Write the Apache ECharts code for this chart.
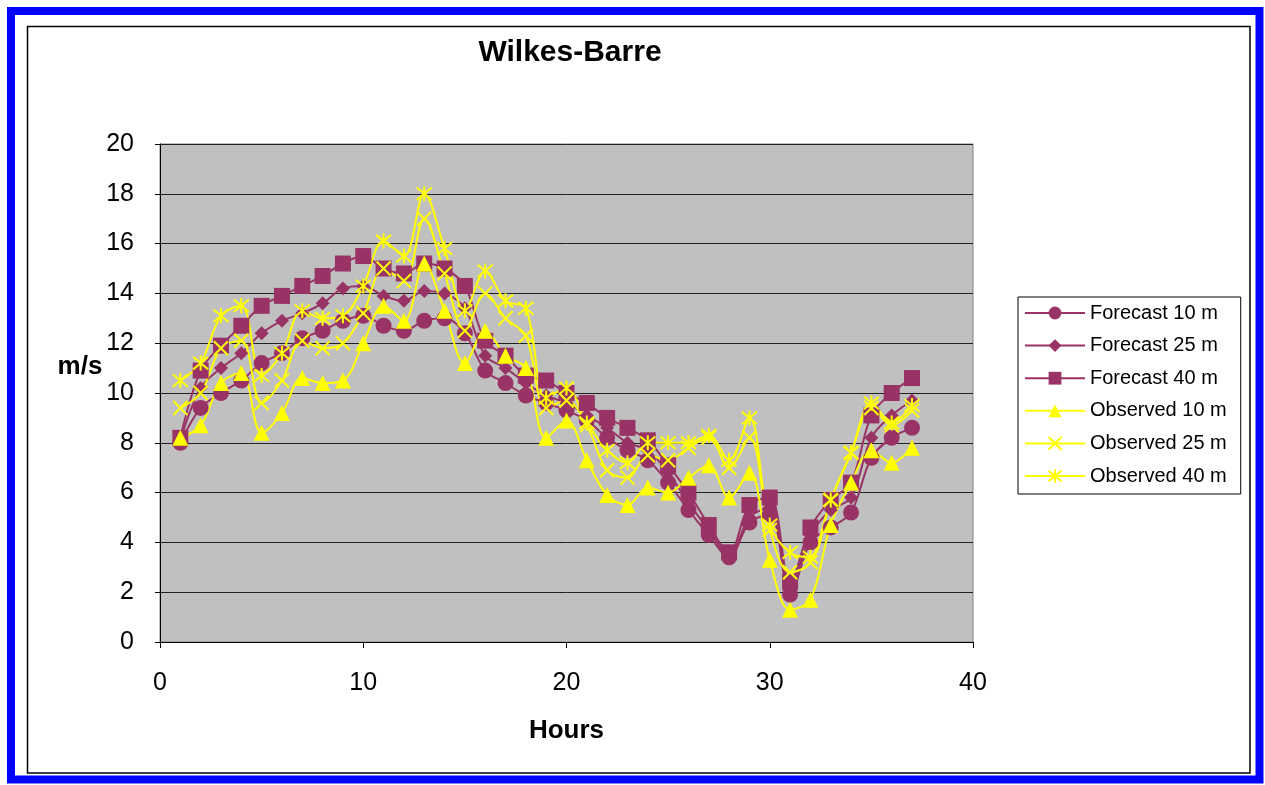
<!DOCTYPE html>
<html>
<head>
<meta charset="utf-8">
<script src="https://cdn.jsdelivr.net/npm/echarts@6/dist/echarts.min.js"></script>
<style>
html,body{margin:0;padding:0;background:#fff;}
#chart{width:1265px;height:785px;}
</style>
</head>
<body>
<div id="chart"></div>
<script>
var hours = [1,2,3,4,5,6,7,8,9,10,11,12,13,14,15,16,17,18,19,20,21,22,23,24,25,26,27,28,29,30,31,32,33,34,35,36,37];
var forecast10 = [8.0,9.4,10.0,10.5,11.2,11.6,12.2,12.5,12.9,13.1,12.7,12.5,12.9,13.0,12.4,10.9,10.4,9.9,9.6,9.3,8.9,8.2,7.7,7.3,6.4,5.3,4.3,3.4,4.8,5.1,1.9,4.0,4.6,5.2,7.4,8.2,8.6];
var forecast25 = [8.1,10.2,11.0,11.6,12.4,12.9,13.2,13.6,14.2,14.3,13.9,13.7,14.1,14.0,13.4,11.5,11.0,10.4,9.9,9.6,9.1,8.6,8.0,7.7,6.8,5.6,4.5,3.5,5.0,5.4,2.2,4.3,5.3,5.8,8.2,9.1,9.7];
var forecast40 = [8.2,10.9,11.9,12.7,13.5,13.9,14.3,14.7,15.2,15.5,15.0,14.8,15.2,15.0,14.3,12.1,11.5,10.7,10.5,10.0,9.6,9.0,8.6,8.1,7.1,6.0,4.7,3.6,5.5,5.8,2.4,4.6,5.7,6.4,9.1,10.0,10.6];
var observed10 = [8.2,8.7,10.4,10.8,8.4,9.2,10.6,10.4,10.5,12.0,13.5,12.9,15.2,13.3,11.2,12.5,11.5,11.0,8.2,8.9,7.3,5.9,5.5,6.2,6.0,6.6,7.1,5.8,6.8,3.3,1.3,1.7,4.7,6.4,7.7,7.2,7.8];
var observed25 = [9.4,10.0,11.8,12.1,9.6,10.5,12.1,11.8,12.0,13.2,15.0,14.5,17.0,14.8,12.5,14.0,13.0,12.3,9.4,9.7,8.7,6.9,6.6,7.5,7.3,7.8,8.2,7.0,8.2,4.5,2.8,3.2,5.7,7.6,9.4,8.7,9.3];
var observed40 = [10.5,11.2,13.1,13.5,10.7,11.6,13.3,13.0,13.1,14.3,16.1,15.5,18.0,15.8,13.3,14.9,13.7,13.4,9.8,10.2,8.8,7.7,7.2,8.0,8.0,8.0,8.3,7.3,9.0,4.7,3.6,3.4,5.7,7.6,9.6,8.8,9.5];
var seriesNames = ['Forecast 10 m','Forecast 25 m','Forecast 40 m','Observed 10 m','Observed 25 m','Observed 40 m'];

var FONT = 'Liberation Sans, Arial, sans-serif';
var PLUM = '#993366';
var YEL = '#FFFF00';

function pairs(vals){ return hours.map(function(h,i){ return [h, vals[i]]; }); }

function mk(name, vals, color, symbol, size, stroke){
  return {
    name: name, type: 'line', data: pairs(vals), smooth: 0.35,
    symbol: symbol, symbolSize: size,
    lineStyle: {color: color, width: 2},
    itemStyle: {color: color, borderColor: color, borderWidth: stroke ? 2 : 0},
    emphasis: {disabled: true},
    z: 3
  };
}

var chart = echarts.init(document.getElementById('chart'));
chart.setOption({
  animation: false,
  backgroundColor: '#ffffff',
  grid: {left: 160, top: 144, width: 813, height: 498, show: true, backgroundColor: '#C0C0C0', borderColor: '#808080', borderWidth: 1},
  xAxis: {
    type: 'value', min: 0, max: 40, interval: 10,
    name: 'Hours', nameLocation: 'middle', nameGap: 76,
    nameTextStyle: {fontFamily: FONT, fontSize: 26, fontWeight: 'bold', color: '#000'},
    axisLine: {show: true, lineStyle: {color: '#000', width: 1}},
    axisTick: {show: true, length: 6, lineStyle: {color: '#000'}},
    axisLabel: {fontFamily: FONT, fontSize: 25, color: '#000', margin: 29},
    splitLine: {show: false}
  },
  yAxis: {
    type: 'value', min: 0, max: 20, interval: 2,
    axisLine: {show: true, lineStyle: {color: '#000', width: 1}},
    axisTick: {show: true, length: 5, lineStyle: {color: '#000'}},
    axisLabel: {fontFamily: FONT, fontSize: 25, color: '#000', margin: 26},
    splitLine: {show: true, lineStyle: {color: '#222', width: 1}}
  },
  legend: {
    orient: 'vertical', left: 1018, top: 297,
    data: seriesNames,
    itemWidth: 60, itemHeight: 16, itemGap: 12.6,
    padding: [6, 14, 8, 6],
    borderColor: '#000', borderWidth: 1, backgroundColor: '#fff',
    selectedMode: false,
    textStyle: {fontFamily: FONT, fontSize: 20, color: '#000'}
  },
  graphic: [
    {type: 'rect', shape: {x: 11, y: 11, width: 1248.5, height: 768.5}, style: {fill: 'none', stroke: '#0000FF', lineWidth: 8}, silent: true},
    {type: 'rect', shape: {x: 27.5, y: 26.5, width: 1222.5, height: 746.5}, style: {fill: 'none', stroke: '#000', lineWidth: 1.5}, silent: true},
    {type: 'text', x: 570, y: 53, style: {text: 'Wilkes-Barre', fontFamily: FONT, fontSize: 30, fontWeight: 'bold', fill: '#000', align: 'center', verticalAlign: 'middle'}, silent: true},
    {type: 'text', x: 80, y: 367, style: {text: 'm/s', fontFamily: FONT, fontSize: 26, fontWeight: 'bold', fill: '#000', align: 'center', verticalAlign: 'middle'}, silent: true}
  ],
  series: [
    mk(seriesNames[0], forecast10, PLUM, 'circle', 16, false),
    mk(seriesNames[1], forecast25, PLUM, 'diamond', 14, false),
    mk(seriesNames[2], forecast40, PLUM, 'rect', 16, false),
    mk(seriesNames[3], observed10, YEL, 'triangle', 16, false),
    mk(seriesNames[4], observed25, YEL, 'path://M0,0L10,10M10,0L0,10', 14, true),
    mk(seriesNames[5], observed40, YEL, 'path://M0,0L10,10M10,0L0,10M5,-1L5,11', 15, true)
  ]
});
</script>
</body>
</html>
